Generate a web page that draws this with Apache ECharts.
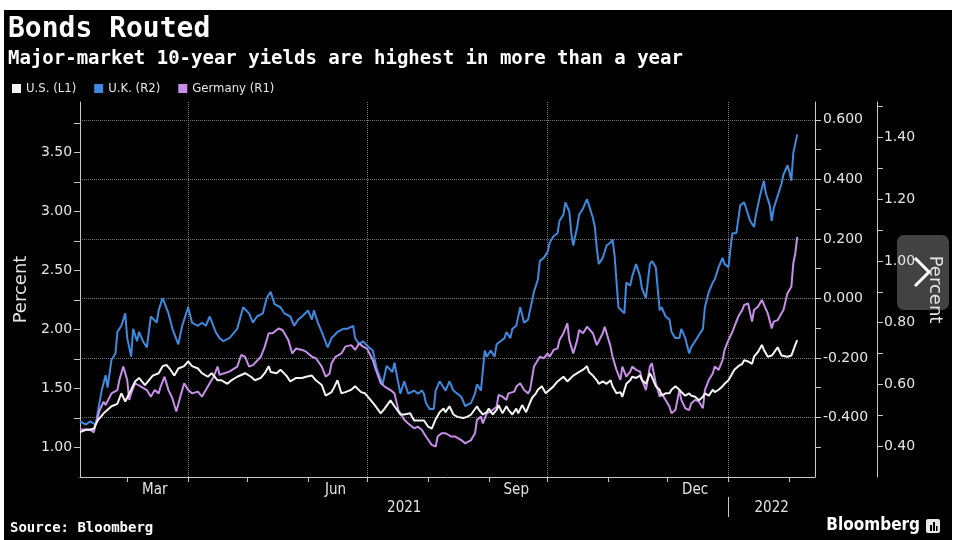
<!DOCTYPE html>
<html>
<head>
<meta charset="utf-8">
<script src="https://cdn.jsdelivr.net/npm/echarts@6/dist/echarts.min.js"></script>
<style>
html,body{margin:0;padding:0;background:#ffffff;width:974px;height:540px;overflow:hidden;}
#chart{position:absolute;left:4px;top:10px;width:948px;height:530px;}
</style>
</head>
<body>
<div id="chart"></div>
<script>
// ---------------- DATA ----------------
const titleText = 'Bonds Routed';
const subtitleText = 'Major-market 10-year yields are highest in more than a year';
const sourceText = 'Source: Bloomberg';
const seriesNames = ['U.S. (L1)', 'U.K. (R2)', 'Germany (R1)'];

const axisStart = '2021-02-05';
const axisEnd = '2022-02-14';
const monthLabelDates = ['2021-03-15', '2021-06-15', '2021-09-15', '2021-12-15'];
const monthLabelTexts = ['Mar', 'Jun', 'Sep', 'Dec'];
const quarterLineDates = ['2021-04-01', '2021-07-01', '2021-10-01', '2022-01-01'];
const yearLabelDates = ['2021-07-20', '2022-01-23'];
const yearLabelTexts = ['2021', '2022'];
const yearBreakDates = ['2022-01-01'];

// U.S. 10-year yield (left axis, L1)
const usDates = [
 '2021-02-05','2021-02-08','2021-02-10','2021-02-12','2021-02-14','2021-02-17','2021-02-18','2021-02-21','2021-02-24','2021-02-26','2021-02-28',
 '2021-03-01','2021-03-03','2021-03-05','2021-03-07','2021-03-10','2021-03-12','2021-03-14','2021-03-17','2021-03-19','2021-03-21','2021-03-23','2021-03-25','2021-03-27','2021-03-30',
 '2021-04-01','2021-04-03','2021-04-06','2021-04-08','2021-04-11','2021-04-13','2021-04-16','2021-04-18','2021-04-21','2021-04-23','2021-04-26','2021-04-30',
 '2021-05-03','2021-05-05','2021-05-08','2021-05-10','2021-05-12','2021-05-13','2021-05-16','2021-05-18','2021-05-21','2021-05-23','2021-05-26','2021-05-29','2021-05-31',
 '2021-06-03','2021-06-05','2021-06-08','2021-06-10','2021-06-13','2021-06-14','2021-06-16','2021-06-18','2021-06-20','2021-06-23','2021-06-25','2021-06-28','2021-06-30',
 '2021-07-03','2021-07-05','2021-07-08','2021-07-10','2021-07-13','2021-07-15','2021-07-18','2021-07-20','2021-07-23','2021-07-25','2021-07-28','2021-07-30',
 '2021-08-01','2021-08-03','2021-08-05','2021-08-07','2021-08-09','2021-08-10','2021-08-12','2021-08-14','2021-08-16','2021-08-19','2021-08-21','2021-08-23','2021-08-26','2021-08-27','2021-08-29','2021-08-31',
 '2021-09-01','2021-09-03','2021-09-05','2021-09-06','2021-09-08','2021-09-10','2021-09-11','2021-09-13','2021-09-15','2021-09-16','2021-09-18','2021-09-20','2021-09-21','2021-09-23','2021-09-25','2021-09-26','2021-09-28','2021-09-30',
 '2021-10-02','2021-10-04','2021-10-06','2021-10-07','2021-10-09','2021-10-11','2021-10-12','2021-10-14','2021-10-16','2021-10-17','2021-10-19','2021-10-21','2021-10-22','2021-10-24','2021-10-26','2021-10-27','2021-10-29','2021-10-31',
 '2021-11-02','2021-11-03','2021-11-05','2021-11-07','2021-11-08','2021-11-10','2021-11-12','2021-11-13','2021-11-15','2021-11-17','2021-11-18','2021-11-20','2021-11-22','2021-11-23','2021-11-25','2021-11-27','2021-11-28','2021-11-30',
 '2021-12-02','2021-12-03','2021-12-05','2021-12-07','2021-12-08','2021-12-10','2021-12-12','2021-12-13','2021-12-15','2021-12-17','2021-12-19','2021-12-20','2021-12-22','2021-12-24','2021-12-25','2021-12-27','2021-12-29','2021-12-30',
 '2022-01-01','2022-01-03','2022-01-04','2022-01-06','2022-01-08','2022-01-09','2022-01-11','2022-01-13','2022-01-14','2022-01-16','2022-01-18','2022-01-19','2022-01-21','2022-01-23','2022-01-24','2022-01-26','2022-01-28','2022-01-29','2022-01-31',
 '2022-02-02','2022-02-04','2022-02-05'
];
const usValues = [
 1.13,1.15,1.15,1.16,1.23,1.29,1.30,1.35,1.37,1.46,1.39,
 1.40,1.49,1.56,1.59,1.53,1.57,1.61,1.63,1.69,1.70,1.66,1.61,1.67,1.69,
 1.73,1.69,1.67,1.63,1.60,1.63,1.57,1.57,1.54,1.57,1.60,1.63,
 1.60,1.57,1.59,1.63,1.69,1.64,1.63,1.66,1.61,1.56,1.59,1.59,1.60,
 1.61,1.57,1.53,1.44,1.47,1.50,1.57,1.46,1.47,1.49,1.52,1.47,1.46,
 1.40,1.36,1.29,1.33,1.40,1.35,1.28,1.28,1.29,1.23,1.23,1.23,
 1.18,1.16,1.24,1.30,1.33,1.30,1.35,1.28,1.26,1.25,1.26,1.28,1.35,1.32,1.28,1.30,
 1.33,1.28,1.32,1.36,1.29,1.35,1.32,1.28,1.33,1.29,1.36,1.30,1.30,1.42,1.46,1.49,1.52,1.46,
 1.49,1.52,1.56,1.57,1.60,1.56,1.57,1.61,1.63,1.63,1.66,1.69,1.64,1.61,1.57,1.54,1.56,1.54,
 1.57,1.52,1.46,1.47,1.43,1.54,1.57,1.60,1.59,1.61,1.57,1.54,1.63,1.60,1.52,1.49,1.44,1.46,
 1.46,1.49,1.52,1.49,1.47,1.44,1.46,1.44,1.43,1.40,1.43,1.46,1.44,1.49,1.47,1.49,1.52,1.54,
 1.57,1.63,1.66,1.69,1.71,1.74,1.73,1.71,1.77,1.81,1.87,1.83,1.77,1.78,1.80,1.85,1.78,1.77,1.77,
 1.78,1.87,1.91
];

// U.K. 10-year yield (second right axis, R2)
const ukDates = [
 '2021-02-05','2021-02-08','2021-02-10','2021-02-13','2021-02-14','2021-02-16','2021-02-18','2021-02-19','2021-02-21','2021-02-23','2021-02-24','2021-02-26','2021-02-28',
 '2021-03-01','2021-03-03','2021-03-04','2021-03-06','2021-03-07','2021-03-09','2021-03-11','2021-03-13','2021-03-16','2021-03-17','2021-03-19','2021-03-22','2021-03-24','2021-03-27','2021-03-29',
 '2021-04-01','2021-04-03','2021-04-06','2021-04-08','2021-04-10','2021-04-12','2021-04-15','2021-04-17','2021-04-19','2021-04-22','2021-04-26','2021-04-29',
 '2021-05-02','2021-05-04','2021-05-06','2021-05-09','2021-05-11','2021-05-13','2021-05-15','2021-05-18','2021-05-20','2021-05-23','2021-05-25','2021-05-27','2021-05-29',
 '2021-06-01','2021-06-03','2021-06-04','2021-06-06','2021-06-08','2021-06-11','2021-06-13','2021-06-16','2021-06-19','2021-06-21','2021-06-24','2021-06-25','2021-06-27','2021-06-29',
 '2021-07-02','2021-07-04','2021-07-06','2021-07-09','2021-07-11','2021-07-14','2021-07-15','2021-07-18','2021-07-20','2021-07-22','2021-07-25','2021-07-27','2021-07-29','2021-07-30','2021-07-31',
 '2021-08-02','2021-08-04','2021-08-05','2021-08-07','2021-08-09','2021-08-10','2021-08-12','2021-08-14','2021-08-16','2021-08-18','2021-08-20','2021-08-23','2021-08-25','2021-08-26','2021-08-28','2021-08-30','2021-08-31',
 '2021-09-02','2021-09-04','2021-09-05','2021-09-07','2021-09-09','2021-09-10','2021-09-12','2021-09-13','2021-09-15','2021-09-17','2021-09-19','2021-09-21','2021-09-22','2021-09-24','2021-09-26','2021-09-27','2021-09-29',
 '2021-10-01','2021-10-02','2021-10-04','2021-10-06','2021-10-07','2021-10-09','2021-10-10','2021-10-12','2021-10-13','2021-10-14','2021-10-16','2021-10-17','2021-10-19','2021-10-21','2021-10-22','2021-10-24','2021-10-25','2021-10-26','2021-10-27','2021-10-29','2021-10-31',
 '2021-11-02','2021-11-03','2021-11-04','2021-11-06','2021-11-07','2021-11-09','2021-11-10','2021-11-12','2021-11-13','2021-11-15','2021-11-17','2021-11-18','2021-11-20','2021-11-22','2021-11-23','2021-11-25','2021-11-27','2021-11-28','2021-11-30',
 '2021-12-02','2021-12-03','2021-12-05','2021-12-07','2021-12-08','2021-12-10','2021-12-12','2021-12-13','2021-12-15','2021-12-17','2021-12-19','2021-12-20','2021-12-22','2021-12-24','2021-12-25','2021-12-27','2021-12-29','2021-12-30',
 '2022-01-01','2022-01-02','2022-01-03','2022-01-05','2022-01-07','2022-01-09','2022-01-10','2022-01-12','2022-01-14','2022-01-15','2022-01-17','2022-01-19','2022-01-20','2022-01-22','2022-01-23','2022-01-24','2022-01-26','2022-01-28','2022-01-29','2022-01-31',
 '2022-02-01','2022-02-02','2022-02-03','2022-02-04','2022-02-05'
];
const ukValues = [
 0.48,0.47,0.48,0.47,0.51,0.58,0.63,0.59,0.68,0.70,0.77,0.79,0.83,
 0.75,0.69,0.78,0.74,0.77,0.74,0.72,0.82,0.80,0.84,0.88,0.83,0.78,0.73,0.79,
 0.85,0.80,0.79,0.80,0.79,0.82,0.77,0.75,0.74,0.75,0.78,0.85,
 0.83,0.80,0.82,0.83,0.88,0.90,0.86,0.85,0.83,0.82,0.79,0.81,0.82,
 0.84,0.81,0.84,0.80,0.77,0.72,0.75,0.77,0.78,0.78,0.79,0.75,0.73,0.74,
 0.72,0.71,0.65,0.60,0.66,0.64,0.67,0.57,0.61,0.57,0.58,0.57,0.58,0.57,0.54,
 0.52,0.52,0.58,0.61,0.59,0.58,0.61,0.58,0.57,0.56,0.53,0.54,0.57,0.60,0.58,0.71,0.69,
 0.71,0.69,0.73,0.74,0.75,0.77,0.75,0.78,0.79,0.85,0.80,0.81,0.81,0.90,0.94,1.00,1.01,
 1.03,1.06,1.08,1.09,1.13,1.15,1.19,1.16,1.09,1.05,1.11,1.15,1.17,1.20,1.18,1.14,1.11,1.04,0.99,1.01,1.05,
 1.06,1.07,1.02,0.85,0.85,0.83,0.93,0.92,0.95,0.99,0.95,0.91,0.88,0.99,1.00,0.98,0.84,0.85,0.82,
 0.81,0.77,0.75,0.75,0.78,0.75,0.70,0.72,0.74,0.76,0.78,0.85,0.90,0.93,0.94,0.98,1.01,0.99,
 0.98,1.04,1.09,1.09,1.18,1.19,1.17,1.13,1.11,1.15,1.21,1.26,1.22,1.18,1.13,1.17,1.21,1.25,1.28,1.31,
 1.29,1.26,1.35,1.38,1.41
];

// Germany 10-year yield (first right axis, R1)
const deDates = [
 '2021-02-05','2021-02-08','2021-02-10','2021-02-12','2021-02-13','2021-02-15','2021-02-17','2021-02-18','2021-02-21','2021-02-24','2021-02-25','2021-02-27',
 '2021-03-01','2021-03-02','2021-03-03','2021-03-05','2021-03-06','2021-03-08','2021-03-11','2021-03-13','2021-03-15','2021-03-17','2021-03-18','2021-03-20','2021-03-22','2021-03-24','2021-03-26','2021-03-28','2021-03-30',
 '2021-04-01','2021-04-03','2021-04-06','2021-04-08','2021-04-10','2021-04-12','2021-04-14','2021-04-16','2021-04-17','2021-04-19','2021-04-22','2021-04-26','2021-04-28','2021-04-30',
 '2021-05-02','2021-05-04','2021-05-08','2021-05-10','2021-05-12','2021-05-14','2021-05-17','2021-05-19','2021-05-22','2021-05-24','2021-05-26','2021-05-29','2021-05-31',
 '2021-06-03','2021-06-05','2021-06-08','2021-06-10','2021-06-12','2021-06-13','2021-06-15','2021-06-18','2021-06-20','2021-06-23','2021-06-25','2021-06-27','2021-06-29',
 '2021-07-01','2021-07-04','2021-07-05','2021-07-08','2021-07-10','2021-07-13','2021-07-15','2021-07-17','2021-07-20','2021-07-22','2021-07-25','2021-07-27','2021-07-29','2021-07-31',
 '2021-08-03','2021-08-05','2021-08-06','2021-08-08','2021-08-10','2021-08-13','2021-08-15','2021-08-18','2021-08-20','2021-08-23','2021-08-25','2021-08-26','2021-08-28','2021-08-29','2021-08-31',
 '2021-09-02','2021-09-05','2021-09-06','2021-09-08','2021-09-10','2021-09-11','2021-09-14','2021-09-15','2021-09-17','2021-09-19','2021-09-21','2021-09-22','2021-09-24','2021-09-26','2021-09-27','2021-09-29',
 '2021-10-01','2021-10-02','2021-10-04','2021-10-06','2021-10-07','2021-10-09','2021-10-11','2021-10-12','2021-10-14','2021-10-16','2021-10-17','2021-10-19','2021-10-21','2021-10-22','2021-10-24','2021-10-26','2021-10-27','2021-10-29','2021-10-30',
 '2021-11-02','2021-11-03','2021-11-05','2021-11-07','2021-11-08','2021-11-10','2021-11-12','2021-11-13','2021-11-15','2021-11-17','2021-11-18','2021-11-20','2021-11-22','2021-11-23','2021-11-25','2021-11-27','2021-11-28','2021-11-30',
 '2021-12-02','2021-12-03','2021-12-05','2021-12-07','2021-12-08','2021-12-10','2021-12-12','2021-12-13','2021-12-15','2021-12-17','2021-12-19','2021-12-20','2021-12-22','2021-12-24','2021-12-25','2021-12-27','2021-12-29','2021-12-30',
 '2022-01-01','2022-01-03','2022-01-04','2022-01-06','2022-01-08','2022-01-09','2022-01-11','2022-01-13','2022-01-14','2022-01-16','2022-01-18','2022-01-19','2022-01-21','2022-01-23','2022-01-24','2022-01-26','2022-01-28','2022-01-29','2022-01-31',
 '2022-02-02','2022-02-03','2022-02-04','2022-02-05'
];
const deValues = [
 -0.440,-0.440,-0.440,-0.450,-0.420,-0.375,-0.347,-0.358,-0.319,-0.308,-0.274,-0.229,
 -0.274,-0.341,-0.319,-0.285,-0.280,-0.296,-0.308,-0.330,-0.308,-0.319,-0.296,-0.263,-0.308,-0.336,-0.380,-0.330,-0.285,
 -0.308,-0.319,-0.313,-0.330,-0.308,-0.285,-0.263,-0.229,-0.257,-0.252,-0.246,-0.229,-0.190,-0.196,
 -0.229,-0.224,-0.196,-0.162,-0.117,-0.117,-0.101,-0.106,-0.140,-0.185,-0.168,-0.173,-0.179,
 -0.196,-0.201,-0.229,-0.263,-0.252,-0.218,-0.196,-0.185,-0.162,-0.157,-0.173,-0.151,-0.162,
 -0.168,-0.207,-0.229,-0.285,-0.296,-0.308,-0.319,-0.375,-0.408,-0.420,-0.436,-0.431,-0.442,-0.464,
 -0.492,-0.498,-0.464,-0.453,-0.453,-0.464,-0.464,-0.476,-0.487,-0.476,-0.453,-0.408,-0.397,-0.420,-0.386,
 -0.380,-0.364,-0.324,-0.330,-0.341,-0.319,-0.313,-0.296,-0.285,-0.308,-0.319,-0.308,-0.229,-0.207,-0.196,-0.201,
 -0.185,-0.196,-0.173,-0.168,-0.140,-0.117,-0.084,-0.140,-0.185,-0.140,-0.106,-0.117,-0.095,-0.101,-0.117,-0.157,-0.151,-0.117,-0.095,
 -0.162,-0.196,-0.240,-0.274,-0.229,-0.263,-0.246,-0.229,-0.240,-0.246,-0.274,-0.308,-0.229,-0.218,-0.285,-0.330,-0.319,-0.341,
 -0.364,-0.386,-0.375,-0.308,-0.341,-0.369,-0.375,-0.353,-0.341,-0.347,-0.369,-0.308,-0.274,-0.252,-0.229,-0.240,-0.207,-0.173,
 -0.140,-0.112,-0.095,-0.061,-0.039,-0.022,-0.017,-0.078,-0.039,-0.028,-0.005,-0.011,-0.050,-0.101,-0.078,-0.073,-0.050,-0.039,0.017,
 0.039,0.118,0.151,0.207
];

// ---------------- STYLE ----------------
const FONT = "'DejaVu Sans', 'Noto Sans', sans-serif";
const FONT_NARROW = "'DejaVu Sans Condensed', 'Liberation Sans Narrow', 'DejaVu Sans', sans-serif";
const FONT_MONO = "'DejaVu Sans Mono', 'Liberation Mono', monospace";
const usColor = '#f4f4f4';
const ukColor = '#3f89de';
const deColor = '#c78ee9';
const axisColor = '#c8c8c8';
const labelColor = '#e4e4e4';
const gridColor = '#7a7a7a';

// ---------------- BUILD ----------------
function dayList(start, end) {
  const out = [];
  const s = Date.parse(start + 'T00:00:00Z');
  const e = Date.parse(end + 'T00:00:00Z');
  for (let t = s; t <= e; t += 86400000) out.push(new Date(t).toISOString().slice(0, 10));
  return out;
}
const days = dayList(axisStart, axisEnd);
const pairs = (d, v) => d.map((x, i) => [x, v[i]]);
const isMult = (v, step) => Math.abs(v / step - Math.round(v / step)) < 1e-6;
const clean = (v, p) => { const r = Math.round(v * Math.pow(10, p)) / Math.pow(10, p); return (r === 0 ? 0 : r).toFixed(p); };

const chart = echarts.init(document.getElementById('chart'), null, { renderer: 'canvas' });

const valueAxisBase = {
  type: 'value',
  axisLine: { show: true, onZero: false, lineStyle: { color: axisColor, width: 1 } },
  axisTick: { show: true, length: 6, lineStyle: { color: axisColor } },
  splitLine: { show: false },
};

const option = {
  backgroundColor: '#000000',
  animation: false,
  textStyle: { fontFamily: FONT },
  title: [
    { text: titleText, left: 4, top: 6, padding: 0,
      textStyle: { color: '#ffffff', fontSize: 28, fontWeight: 'bold', fontFamily: FONT_MONO } },
    { text: subtitleText, left: 4, top: 40, padding: 0,
      textStyle: { color: '#ffffff', fontSize: 19, fontWeight: 'bold', fontFamily: FONT_MONO } }
  ],
  legend: {
    data: seriesNames, left: 8, top: 72, padding: 0,
    icon: 'rect', itemWidth: 9, itemHeight: 9, itemGap: 18,
    textStyle: { color: labelColor, fontSize: 13, fontFamily: FONT_NARROW },
    selectedMode: false
  },
  grid: { left: 71, right: 134, top: 92, bottom: 63, containLabel: false },
  xAxis: [
    {
      type: 'category', data: days, boundaryGap: false, position: 'bottom',
      axisLine: { show: true, onZero: false, lineStyle: { color: axisColor, width: 1 } },
      axisTick: { show: true, length: 5, interval: (i, v) => v.slice(8) === '01', lineStyle: { color: axisColor } },
      axisLabel: {
        interval: (i, v) => monthLabelDates.indexOf(v) >= 0,
        formatter: (v) => { const k = monthLabelDates.indexOf(v); return k >= 0 ? monthLabelTexts[k] : ''; },
        color: labelColor, fontSize: 15, fontFamily: FONT_NARROW, margin: 6
      },
      splitLine: { show: true, interval: (i, v) => quarterLineDates.indexOf(v) >= 0,
        lineStyle: { color: gridColor, type: 'dotted', width: 1 } }
    },
    {
      type: 'category', data: days, boundaryGap: false, position: 'bottom', offset: 20,
      axisLine: { show: false, onZero: false },
      axisTick: { show: true, length: 20, interval: (i, v) => yearBreakDates.indexOf(v) >= 0, lineStyle: { color: axisColor } },
      axisLabel: {
        interval: (i, v) => yearLabelDates.indexOf(v) >= 0,
        formatter: (v) => { const k = yearLabelDates.indexOf(v); return k >= 0 ? yearLabelTexts[k] : ''; },
        color: labelColor, fontSize: 15, fontFamily: FONT_NARROW, margin: 4
      },
      splitLine: { show: false }
    }
  ],
  yAxis: [
    Object.assign({}, valueAxisBase, {
      position: 'left', min: 0.75, max: 3.93, interval: 0.25,
      axisLabel: { color: labelColor, fontSize: 14, fontFamily: FONT, margin: 8, showMinLabel: false, showMaxLabel: false,
        formatter: (v) => (isMult(v, 0.5) && v > 0.9 && v < 3.6) ? clean(v, 2) : '' },
      name: 'Percent', nameLocation: 'middle', nameGap: 47,
      nameTextStyle: { color: labelColor, fontSize: 18, fontFamily: FONT }
    }),
    Object.assign({}, valueAxisBase, {
      position: 'right', offset: 0, min: -0.6, max: 0.66, interval: 0.1,
      axisLabel: { color: labelColor, fontSize: 14, fontFamily: FONT, margin: 8, showMinLabel: false, showMaxLabel: false,
        formatter: (v) => (isMult(v, 0.2) && v > -0.5 && v < 0.65) ? clean(v, 3) : '' }
    }),
    Object.assign({}, valueAxisBase, {
      position: 'right', offset: 62, min: 0.3, max: 1.515, interval: 0.1,
      axisLabel: { color: labelColor, fontSize: 14, fontFamily: FONT, margin: 7, showMinLabel: false, showMaxLabel: false,
        formatter: (v) => (isMult(v, 0.2) && v > 0.35 && v < 1.45) ? clean(v, 2) : '' },
      name: 'Percent', nameLocation: 'middle', nameGap: 42, nameRotate: -90,
      nameTextStyle: { color: labelColor, fontSize: 18, fontFamily: FONT }
    }),
    {
      type: 'value', position: 'right', offset: 0, min: -0.6, max: 0.66, interval: 0.2,
      axisLine: { show: false, onZero: false }, axisTick: { show: false }, axisLabel: { show: false },
      splitLine: { show: true, showMinLine: false, showMaxLine: false,
        lineStyle: { color: gridColor, type: 'dotted', width: 1 } }
    }
  ],
  series: [
    { name: seriesNames[0], type: 'line', xAxisIndex: 0, yAxisIndex: 0, data: pairs(usDates, usValues),
      symbol: 'none', showSymbol: false, z: 5, lineStyle: { color: usColor, width: 2 }, itemStyle: { color: usColor } },
    { name: seriesNames[1], type: 'line', xAxisIndex: 0, yAxisIndex: 2, data: pairs(ukDates, ukValues),
      symbol: 'none', showSymbol: false, z: 3, lineStyle: { color: ukColor, width: 2 }, itemStyle: { color: ukColor } },
    { name: seriesNames[2], type: 'line', xAxisIndex: 0, yAxisIndex: 1, data: pairs(deDates, deValues),
      symbol: 'none', showSymbol: false, z: 4, lineStyle: { color: deColor, width: 2 }, itemStyle: { color: deColor } }
  ],
  graphic: [
    { type: 'text', left: 6, top: 511, z: 10,
      style: { text: sourceText, fill: '#ffffff', font: "bold 14px 'DejaVu Sans Mono', monospace" } },
    { type: 'text', right: 32, top: 507, z: 10,
      style: { text: 'Bloomberg', fill: '#ffffff', font: "bold 17px 'DejaVu Sans Condensed', 'DejaVu Sans', sans-serif" } },
    { type: 'group', right: 12, top: 509, z: 10, children: [
      { type: 'rect', shape: { x: 0, y: 0, width: 14, height: 14, r: 2 }, style: { fill: '#e8e8e8' } },
      { type: 'rect', shape: { x: 4, y: 6, width: 2, height: 6 }, style: { fill: '#000' } },
      { type: 'rect', shape: { x: 7, y: 3, width: 2, height: 9 }, style: { fill: '#000' } },
      { type: 'rect', shape: { x: 10, y: 7, width: 1.5, height: 5 }, style: { fill: '#000' } }
    ] },
    { type: 'group', left: 893, top: 225, z: 20, children: [
      { type: 'rect', shape: { x: 0, y: 0, width: 52, height: 75, r: 7 }, style: { fill: 'rgba(78,78,78,0.85)' } },
      { type: 'polyline', shape: { points: [[18, 23], [32, 37], [18, 51]] },
        style: { stroke: '#ffffff', lineWidth: 3, fill: null } }
    ] }
  ]
};

chart.setOption(option);
</script>
</body>
</html>
